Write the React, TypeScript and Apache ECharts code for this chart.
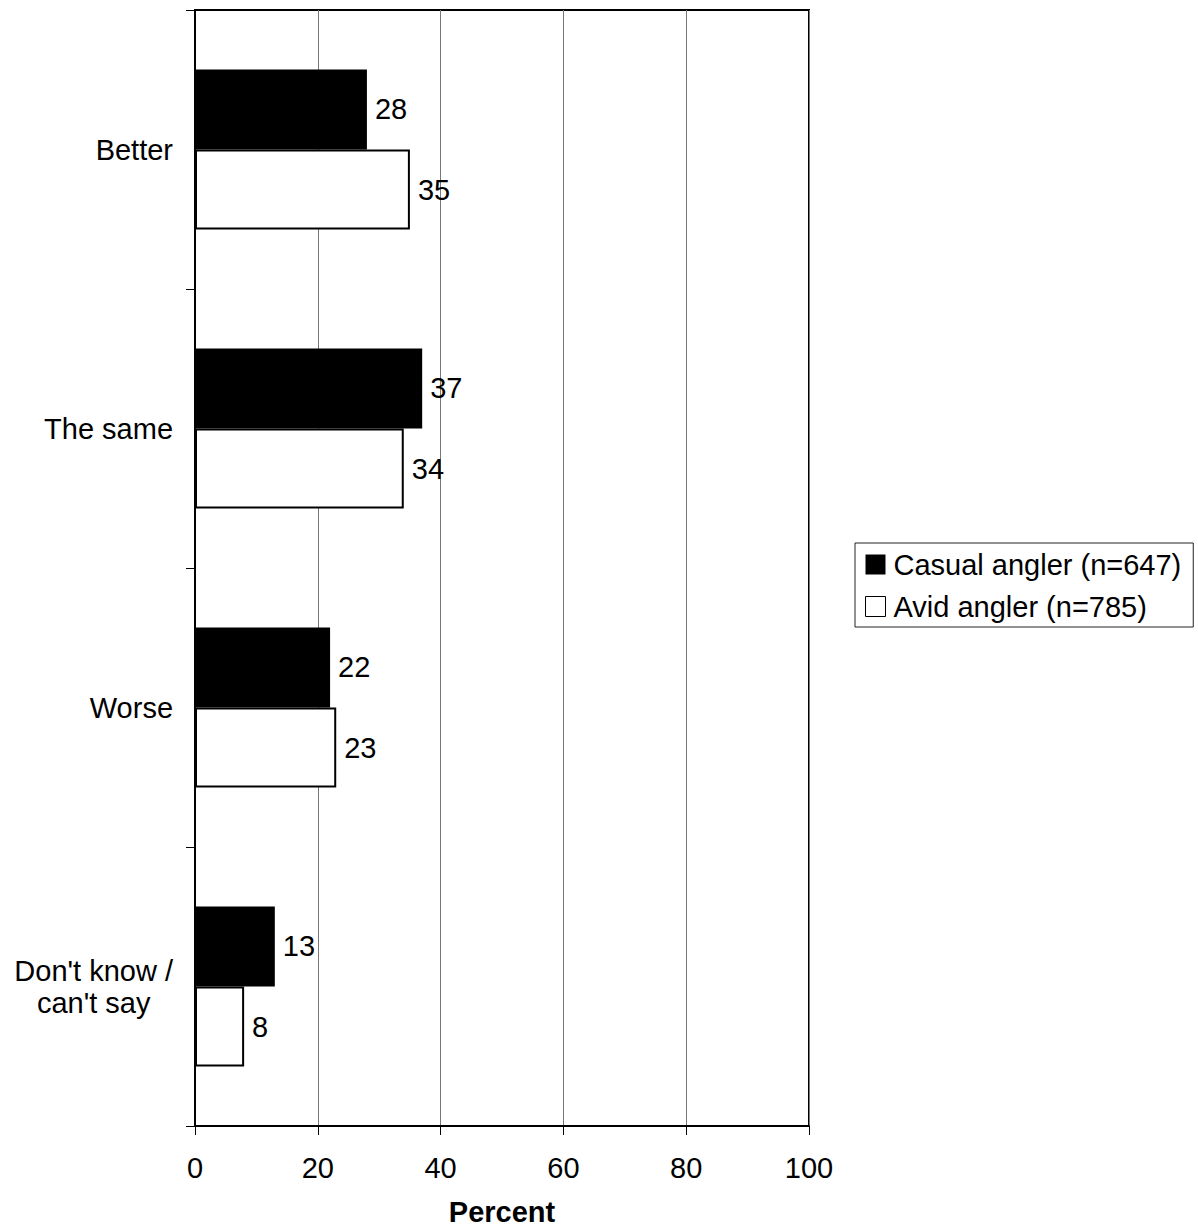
import React, { useEffect, useRef } from "react";
import * as echarts from "echarts";

const categories = ["Better", "The same", "Worse", "Don't know /\ncan't say"];
const casualValues = [28, 37, 22, 13];
const avidValues = [35, 34, 23, 8];
const seriesNames = ["Casual angler (n=647)", "Avid angler (n=785)"];
const xTicks = { min: 0, max: 100, interval: 20 };
const axisName = "Percent";

const FONT = "'Liberation Sans', Arial, sans-serif";
const FS = 29;

export default function App() {
  const ref = useRef<HTMLDivElement>(null);
  useEffect(() => {
    if (!ref.current) return;
    const chart = echarts.init(ref.current, undefined, { renderer: "svg" });
    const labelStyle = {
      show: true,
      position: "right" as const,
      distance: 8,
      fontSize: FS,
      color: "#000",
      fontFamily: FONT,
    };
    chart.setOption({
      animation: false,
      backgroundColor: "#fff",
      textStyle: { fontFamily: FONT },
      grid: {
        left: 195,
        top: 10,
        width: 614,
        height: 1116,
        show: true,
        borderColor: "#000",
        borderWidth: 2,
        backgroundColor: "transparent",
        containLabel: false,
        outerBoundsMode: "none",
      },
      legend: {
        orient: "vertical",
        left: 855,
        top: 543,
        borderColor: "#222",
        borderWidth: 1,
        padding: [7, 12, 6, 10],
        itemGap: 13,
        itemWidth: 20,
        itemHeight: 20,
        icon: "rect",
        textStyle: { fontSize: FS, color: "#000", fontFamily: FONT, padding: [0, 0, 0, 3] },
        data: [
          { name: seriesNames[0] },
          { name: seriesNames[1], itemStyle: { borderWidth: 1, borderColor: "#000", color: "#fff" } },
        ],
      },
      xAxis: {
        type: "value",
        min: xTicks.min,
        max: xTicks.max,
        interval: xTicks.interval,
        axisLine: { show: true, lineStyle: { color: "#000", width: 2 } },
        axisTick: { show: true, length: 9, lineStyle: { color: "#000", width: 1 } },
        splitLine: { show: true, lineStyle: { color: "#777", width: 1 } },
        axisLabel: { fontSize: FS, color: "#000", margin: 27, fontFamily: FONT },
        name: axisName,
        nameLocation: "middle",
        nameGap: 71,
        nameTextStyle: { fontSize: FS, fontWeight: "bold", color: "#000", fontFamily: FONT },
      },
      yAxis: {
        type: "category",
        inverse: true,
        data: categories,
        axisLine: { show: true, lineStyle: { color: "#000", width: 2 } },
        axisTick: { show: true, length: 9, lineStyle: { color: "#000", width: 1 } },
        axisLabel: {
          fontSize: FS,
          color: "#000",
          margin: 22,
          fontFamily: FONT,
          formatter: (v: string) =>
            v
              .split("\n")
              .map((l) => `{c|${l}}`)
              .join("\n"),
          rich: {
            c: { align: "center", fontSize: FS, lineHeight: 32, color: "#000", fontFamily: FONT },
          },
        },
      },
      series: [
        {
          name: seriesNames[0],
          type: "bar",
          data: casualValues,
          barGap: "0%",
          barCategoryGap: "42.6%",
          itemStyle: { color: "#000", borderColor: "#000", borderWidth: 0 },
          label: labelStyle,
        },
        {
          name: seriesNames[1],
          type: "bar",
          data: avidValues,
          barGap: "0%",
          barCategoryGap: "42.6%",
          itemStyle: { color: "#fff", borderColor: "#000", borderWidth: 2 },
          label: labelStyle,
        },
      ],
    });
    return () => chart.dispose();
  }, []);
  return (
    <div
      ref={ref}
      style={{ position: "absolute", left: 0, top: 0, width: 1198, height: 1226 }}
    />
  );
}
